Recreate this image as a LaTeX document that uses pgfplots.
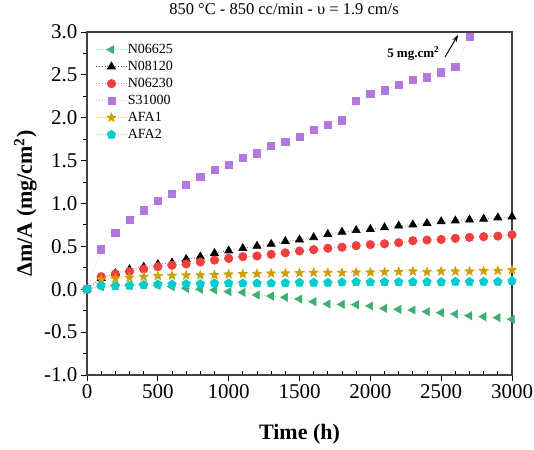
\documentclass[border=0pt]{standalone}
\usepackage{fontspec}
\setmainfont{Liberation Serif}
\usepackage{pgfplots}
\pgfplotsset{compat=1.18}
\usetikzlibrary{plotmarks,arrows.meta}
\definecolor{cgreen}{RGB}{60,176,112}
\definecolor{cred}{RGB}{238,64,64}
\definecolor{cpurple}{RGB}{178,120,222}
\definecolor{cgold}{RGB}{208,158,10}
\definecolor{ccyan}{RGB}{0,204,206}
\pgfdeclareplotmark{fstar}{%
  \pgfpathmoveto{\pgfpointpolar{90}{\pgfplotmarksize}}%
  \pgfpathlineto{\pgfpointpolar{126}{0.42\pgfplotmarksize}}%
  \pgfpathlineto{\pgfpointpolar{162}{\pgfplotmarksize}}%
  \pgfpathlineto{\pgfpointpolar{198}{0.42\pgfplotmarksize}}%
  \pgfpathlineto{\pgfpointpolar{234}{\pgfplotmarksize}}%
  \pgfpathlineto{\pgfpointpolar{270}{0.42\pgfplotmarksize}}%
  \pgfpathlineto{\pgfpointpolar{306}{\pgfplotmarksize}}%
  \pgfpathlineto{\pgfpointpolar{342}{0.42\pgfplotmarksize}}%
  \pgfpathlineto{\pgfpointpolar{18}{\pgfplotmarksize}}%
  \pgfpathlineto{\pgfpointpolar{54}{0.42\pgfplotmarksize}}%
  \pgfpathclose
  \pgfusepathqfillstroke}
\begin{document}
\begin{tikzpicture}
\begin{axis}[
  at={(0,0)}, anchor=south west,
  scale only axis, width=425pt, height=343pt,
  xmin=0, xmax=3000, ymin=-1, ymax=3,
  clip=false,
  xtick={0,500,...,3000}, ytick={-1,-0.5,...,3},
  minor x tick num=4, minor y tick num=1,
  tick align=outside, tick pos=left,
  major tick length=6pt, minor tick length=4pt,
  minor x tick style={yshift=4pt},
  tick style={black, line width=0.9pt},
  axis line style={black!75, line width=1.1pt},
  /pgf/number format/assume math mode=true,
  /pgf/number format/1000 sep={},
  yticklabel style={/pgf/number format/fixed, /pgf/number format/fixed zerofill, /pgf/number format/precision=1},
  tick label style={font=\fontsize{21}{21}\selectfont},
  xlabel={\textbf{Time (h)}},
  ylabel={\textbf{Δm/A (mg/cm\textsuperscript{2})}},
  xlabel style={at={(axis description cs:0.5,-0.1866)}, anchor=base, font=\fontsize{22}{22}\selectfont, inner sep=0pt},
  ylabel style={at={(axis description cs:-0.1176,0.5)}, anchor=south, rotate=0, font=\fontsize{22}{22}\selectfont, inner sep=0pt},
  title={850 °C - 850 cc/min - υ = 1.9 cm/s},
  title style={at={(axis description cs:0.4635,1.0335)}, anchor=base, font=\fontsize{16.5}{16.5}\selectfont, inner sep=0pt},
  legend style={at={(axis description cs:0.021,0.971)}, anchor=north west, draw=none, fill=none,
    inner sep=0pt, font=\fontsize{14}{14}\selectfont,
    nodes={inner sep=1pt, text height=10pt, text depth=3pt}, row sep=2pt},
  legend cell align=left,
  legend image code/.code={\draw[#1, mark repeat=2, mark phase=2] plot coordinates {(0pt,0pt) (15pt,0pt) (30pt,0pt)};},
]
\addplot[cgreen!60, dotted, line width=0.7pt, mark=triangle*, mark size=4.6pt, mark options={solid, fill=cgreen, draw=cgreen, rotate=90}] coordinates {
(0,0) (100,0.03) (200,0.04) (300,0.045) (400,0.05) (500,0.045) (600,0.03) (700,0.011) (800,0.0) (900,-0.009) (1000,-0.028) (1100,-0.036) (1200,-0.067) (1300,-0.079) (1400,-0.094) (1500,-0.114) (1600,-0.145) (1700,-0.172) (1800,-0.176) (1900,-0.18) (2000,-0.195) (2100,-0.223) (2200,-0.235) (2300,-0.242) (2400,-0.261) (2500,-0.273) (2600,-0.289) (2700,-0.308) (2800,-0.32) (2900,-0.331) (3000,-0.351)};
\addlegendentry{N06625}
\addplot[black!60, dotted, line width=0.7pt, mark=triangle*, mark size=4.6pt, mark options={solid, fill=black, draw=black}] coordinates {
(0,0) (100,0.13) (200,0.186) (300,0.23) (400,0.26) (500,0.29) (600,0.31) (700,0.35) (800,0.38) (900,0.42) (1000,0.45) (1100,0.477) (1200,0.504) (1300,0.527) (1400,0.56) (1500,0.577) (1600,0.605) (1700,0.642) (1800,0.667) (1900,0.687) (2000,0.70) (2100,0.72) (2200,0.74) (2300,0.753) (2400,0.77) (2500,0.79) (2600,0.80) (2700,0.81) (2800,0.82) (2900,0.835) (3000,0.846)};
\addlegendentry{N08120}
\addplot[cred!70, dotted, line width=0.7pt, mark=*, mark size=4.2pt, mark options={solid, fill=cred, draw=cred}] coordinates {
(0,0) (100,0.146) (200,0.178) (300,0.205) (400,0.236) (500,0.263) (600,0.28) (700,0.295) (800,0.318) (900,0.34) (1000,0.36) (1100,0.38) (1200,0.388) (1300,0.407) (1400,0.425) (1500,0.446) (1600,0.462) (1700,0.478) (1800,0.49) (1900,0.508) (2000,0.52) (2100,0.53) (2200,0.543) (2300,0.566) (2400,0.574) (2500,0.58) (2600,0.594) (2700,0.605) (2800,0.613) (2900,0.62) (3000,0.636)};
\addlegendentry{N06230}
\addplot[cpurple!50, dotted, line width=0.7pt, mark=square*, mark size=3.6pt, mark options={solid, fill=cpurple, draw=cpurple}] coordinates {
(0,0) (100,0.466) (200,0.66) (300,0.81) (400,0.92) (500,1.03) (600,1.11) (700,1.22) (800,1.31) (900,1.39) (1000,1.45) (1100,1.53) (1200,1.585) (1300,1.67) (1400,1.72) (1500,1.78) (1600,1.86) (1700,1.92) (1800,1.97) (1900,2.195) (2000,2.28) (2100,2.32) (2200,2.38) (2300,2.44) (2400,2.47) (2500,2.53) (2600,2.595) (2700,2.945)};
\addlegendentry{S31000}
\addplot[cgold!70, dotted, line width=0.7pt, mark=fstar, mark size=4.6pt, mark options={solid, fill=cgold, draw=cgold}] coordinates {
(0,0) (100,0.115) (200,0.127) (300,0.135) (400,0.147) (500,0.155) (600,0.159) (700,0.163) (800,0.163) (900,0.166) (1000,0.174) (1100,0.178) (1200,0.18) (1300,0.185) (1400,0.186) (1500,0.19) (1600,0.193) (1700,0.193) (1800,0.193) (1900,0.197) (2000,0.197) (2100,0.201) (2200,0.205) (2300,0.209) (2400,0.201) (2500,0.209) (2600,0.209) (2700,0.209) (2800,0.213) (2900,0.217) (3000,0.224)};
\addlegendentry{AFA1}
\addplot[ccyan!60, dotted, line width=0.7pt, mark=pentagon*, mark size=4.4pt, mark options={solid, fill=ccyan, draw=ccyan}] coordinates {
(0,0) (100,0.042) (200,0.038) (300,0.042) (400,0.05) (500,0.057) (600,0.057) (700,0.061) (800,0.061) (900,0.069) (1000,0.069) (1100,0.069) (1200,0.069) (1300,0.069) (1400,0.073) (1500,0.077) (1600,0.077) (1700,0.077) (1800,0.081) (1900,0.085) (2000,0.081) (2100,0.085) (2200,0.085) (2300,0.085) (2400,0.085) (2500,0.085) (2600,0.088) (2700,0.088) (2800,0.088) (2900,0.088) (3000,0.096)};
\addlegendentry{AFA2}
\node[anchor=base west, inner sep=0pt, font=\fontsize{13}{13}\selectfont\bfseries] at (axis cs:2118,2.708) {5 mg.cm\textsuperscript{2}};
\draw[-{Stealth[length=7pt,width=5pt]}, line width=1pt] (axis cs:2527,2.708) -- (axis cs:2619,2.965);
\end{axis}
\pgfresetboundingbox
\path[use as bounding box] (-87pt,-74pt) rectangle (447pt,375pt);
\end{tikzpicture}
\end{document}
